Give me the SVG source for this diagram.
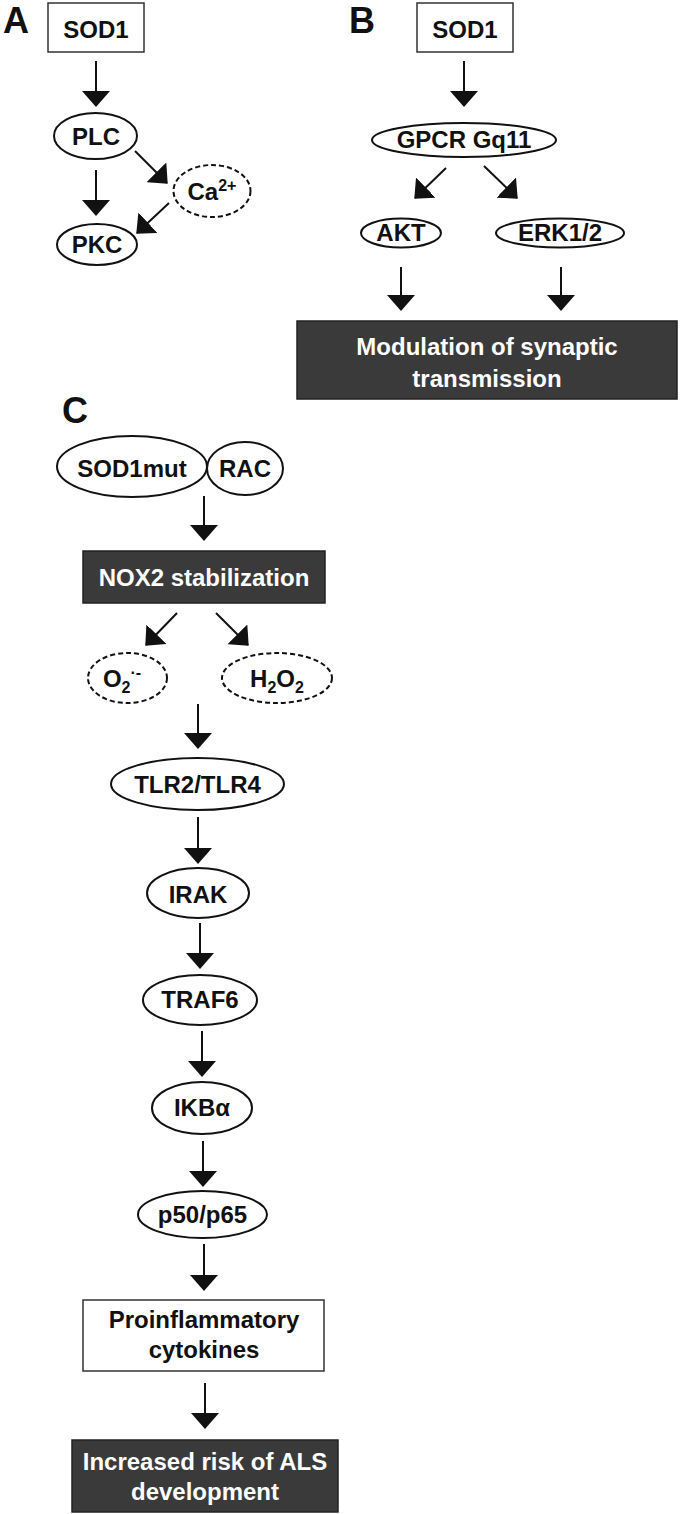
<svg xmlns="http://www.w3.org/2000/svg" width="680" height="1514" viewBox="0 0 680 1514">
<defs>
<style>
text{font-family:"Liberation Sans",Arial,sans-serif;font-weight:bold;font-size:24px;fill:#111;text-anchor:middle}
.lbl{font-size:36px;text-anchor:start}
.w{fill:#fff}
.sub{font-size:16px}
.node{fill:#fff;stroke:#111;stroke-width:2}
.dash{fill:#fff;stroke:#111;stroke-width:2;stroke-dasharray:5 3}
.dark{fill:#3a3a3a;stroke:#222;stroke-width:1.5}
.box{fill:#fff;stroke:#333;stroke-width:1.5}
.conn line{stroke:#111;stroke-width:2;marker-end:url(#ah)}
</style>
<marker id="ah" markerUnits="userSpaceOnUse" markerWidth="16" markerHeight="28" viewBox="0 0 16 28" refX="15" refY="14" orient="auto">
<path d="M0,0 L16,14 L0,28 z" fill="#111"/>
</marker>
</defs>
<rect width="680" height="1514" fill="#fff"/>

<text class="lbl" x="3" y="33">A</text>
<text class="lbl" x="349" y="33">B</text>
<text class="lbl" x="62" y="423">C</text>

<g class="conn" id="connectors">
<line x1="96" y1="61" x2="96" y2="106"/>
<line x1="96" y1="170" x2="96" y2="215"/>
<line x1="135" y1="151" x2="167" y2="183"/>
<line x1="169" y1="203" x2="137" y2="233"/>
<line x1="464" y1="61" x2="464" y2="106"/>
<line x1="446" y1="168" x2="415" y2="198"/>
<line x1="484" y1="166" x2="517" y2="198"/>
<line x1="401" y1="267" x2="401" y2="310"/>
<line x1="561" y1="267" x2="561" y2="310"/>
<line x1="204" y1="496" x2="204" y2="540"/>
<line x1="177" y1="613" x2="146" y2="645"/>
<line x1="216" y1="613" x2="248" y2="645"/>
<line x1="198" y1="704" x2="198" y2="748"/>
<line x1="198" y1="817" x2="198" y2="863"/>
<line x1="200" y1="923" x2="200" y2="968"/>
<line x1="202" y1="1031" x2="202" y2="1076"/>
<line x1="203" y1="1141" x2="203" y2="1186"/>
<line x1="204" y1="1244" x2="204" y2="1290"/>
<line x1="205" y1="1383" x2="205" y2="1428"/>
</g>

<g id="a-sod1"><rect class="box" x="48" y="3" width="96" height="49"/><text x="96" y="38">SOD1</text></g>
<g id="a-plc"><ellipse class="node" cx="95.5" cy="136" rx="41.5" ry="23"/><text x="96" y="145">PLC</text></g>
<g id="a-ca"><ellipse class="dash" cx="212" cy="191" rx="38.5" ry="26"/><text x="212" y="200"><tspan>Ca</tspan><tspan class="sub" dy="-9">2+</tspan></text></g>
<g id="a-pkc"><ellipse class="node" cx="97" cy="244.5" rx="40" ry="20.5"/><text x="97" y="253">PKC</text></g>

<g id="b-sod1"><rect class="box" x="417" y="3" width="96" height="49"/><text x="465" y="38">SOD1</text></g>
<g id="b-gpcr"><ellipse class="node" cx="464" cy="140" rx="92" ry="17"/><text x="464" y="148">GPCR Gq11</text></g>
<g id="b-akt"><ellipse class="node" cx="401" cy="233" rx="40" ry="14.5"/><text x="401" y="241">AKT</text></g>
<g id="b-erk"><ellipse class="node" cx="560" cy="233" rx="64" ry="14.5"/><text x="560" y="241">ERK1/2</text></g>
<g id="b-mod"><rect class="dark" x="297" y="321" width="380" height="78"/><text class="w" x="487" y="355">Modulation of synaptic</text><text class="w" x="487" y="387">transmission</text></g>

<g id="c-sod1mut"><ellipse class="node" cx="132" cy="466.5" rx="75" ry="30.5"/><text x="132" y="477">SOD1mut</text></g>
<g id="c-rac"><ellipse class="node" cx="245" cy="468.5" rx="38" ry="26.5"/><text x="245" y="477">RAC</text></g>
<g id="c-nox2"><rect class="dark" x="83" y="551" width="242" height="52"/><text class="w" x="204" y="586">NOX2 stabilization</text></g>
<g id="c-o2"><ellipse class="dash" cx="127.5" cy="678" rx="39.5" ry="25"/><text x="122" y="687"><tspan>O</tspan><tspan class="sub" dy="6">2</tspan><tspan class="sub" dy="-15">·-</tspan></text></g>
<g id="c-h2o2"><ellipse class="dash" cx="277" cy="678" rx="55" ry="25"/><text x="277" y="687"><tspan>H</tspan><tspan class="sub" dy="6">2</tspan><tspan dy="-6">O</tspan><tspan class="sub" dy="6">2</tspan></text></g>
<g id="c-tlr"><ellipse class="node" cx="197.5" cy="784" rx="86.5" ry="26"/><text x="197.5" y="793">TLR2/TLR4</text></g>
<g id="c-irak"><ellipse class="node" cx="198" cy="893" rx="51" ry="25"/><text x="198" y="903">IRAK</text></g>
<g id="c-traf6"><ellipse class="node" cx="200" cy="1000" rx="57" ry="25"/><text x="200" y="1008">TRAF6</text></g>
<g id="c-ikba"><ellipse class="node" cx="202" cy="1108" rx="50" ry="26"/><text x="202" y="1116">IKBα</text></g>
<g id="c-p50"><ellipse class="node" cx="202.5" cy="1214.5" rx="64.5" ry="23.5"/><text x="202.5" y="1223">p50/p65</text></g>
<g id="c-cyto"><rect class="box" x="83" y="1300" width="241" height="71"/><text x="204" y="1328">Proinflammatory</text><text x="204" y="1358">cytokines</text></g>
<g id="c-als"><rect class="dark" x="72" y="1440" width="266" height="72"/><text class="w" x="205" y="1470">Increased risk of ALS</text><text class="w" x="205" y="1500">development</text></g>
</svg>
